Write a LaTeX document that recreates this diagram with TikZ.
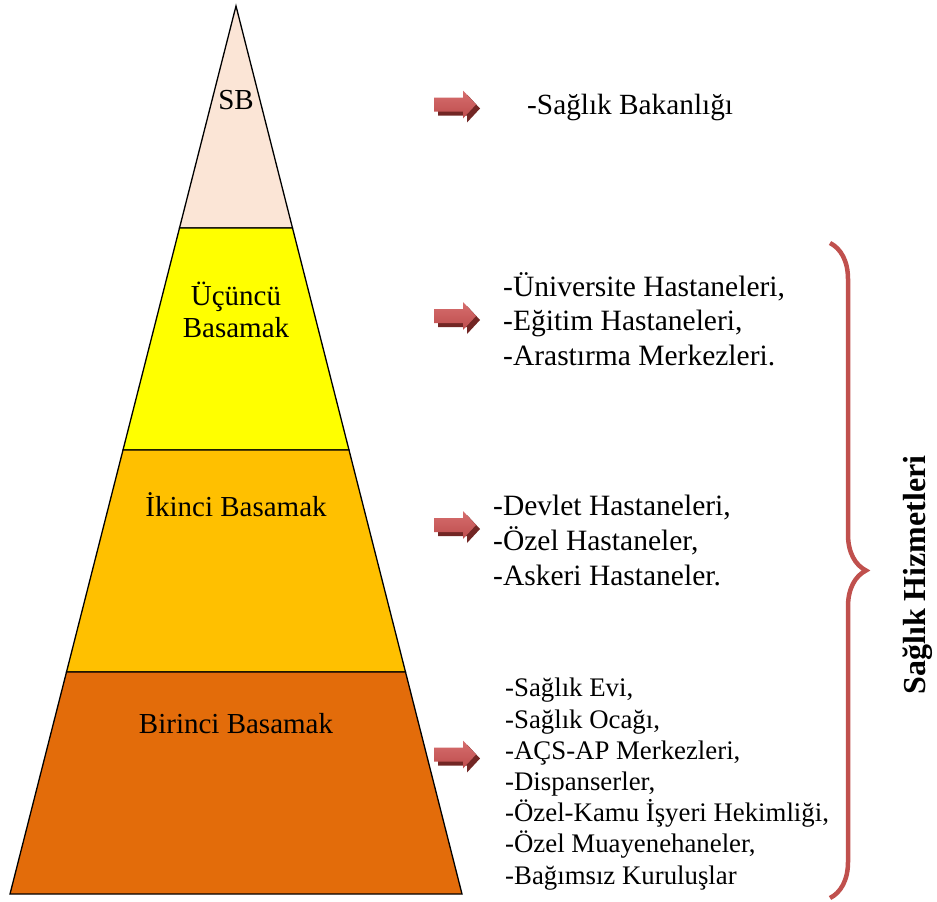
\documentclass[tikz,border=0pt]{standalone}
\usepackage{fontspec}
\setmainfont{Liberation Serif}
\usetikzlibrary{decorations.pathreplacing}
\definecolor{sbpeach}{HTML}{FBE5D6}
\definecolor{tierthree}{HTML}{FFFF00}
\definecolor{tiertwo}{HTML}{FFC000}
\definecolor{tierone}{HTML}{E36C0A}
\definecolor{arrowtop}{HTML}{D66E6E}
\definecolor{arrowbot}{HTML}{BE4D4D}
\definecolor{arrowdark}{HTML}{722624}
\definecolor{bracered}{HTML}{C0504D}
\begin{document}
\begin{tikzpicture}[x=1pt,y=-1pt,
  tier/.style={draw=black, line width=1.3pt, line join=miter},
  tierlabel/.style={font=\fontsize{29}{32}\selectfont, align=center, inner sep=0pt},
  listtext/.style 2 args={font=\fontsize{#1}{#2}\selectfont, align=left, anchor=west, inner sep=0pt},
  pointer/.pic={
    % extruded dark back face
    \fill[arrowdark] (4,-3) -- (33,-3) -- (33,-10) -- (46,4) -- (33,18) -- (33,11) -- (4,11) -- cycle;
    % front face
    \shade[top color=arrowtop, bottom color=arrowbot]
      (0,-7) -- (29,-7) -- (29,-14) -- (42,0) -- (29,14) -- (29,7) -- (0,7) -- cycle;
  }
]
\useasboundingbox (0,0) rectangle (937,902);

% pyramid tiers, top to bottom
\path[tier, fill=sbpeach]   (236,6) -- (292.5,228) -- (179.5,228) -- cycle;
\path[tier, fill=tierthree] (179.5,228) -- (292.5,228) -- (349,450) -- (123,450) -- cycle;
\path[tier, fill=tiertwo]   (123,450) -- (349,450) -- (405.5,672) -- (66.5,672) -- cycle;
\path[tier, fill=tierone]   (66.5,672) -- (405.5,672) -- (462,894) -- (10,894) -- cycle;

% tier labels
\node[tierlabel] (sb) at (236,100) {SB};
\node[tierlabel] (t3) at (236,310) {Üçüncü\\Basamak};
\node[tierlabel] (t2) at (236,505) {İkinci Basamak};
\node[tierlabel] (t1) at (236,724) {Birinci Basamak};

% pointers
\pic at (434,104.5) {pointer};
\pic at (434,316) {pointer};
\pic at (434,525) {pointer};
\pic at (434,754.5) {pointer};

% institution lists
\node[listtext={29.3}{35}] (l0) at (527,107) {-Sağlık Bakanlığı};
\node[listtext={29.5}{34.5}] (l3) at (503,319) {-Üniversite Hastaneleri,\\-Eğitim Hastaneleri,\\-Arastırma Merkezleri.};
\node[listtext={29.5}{35}] (l2) at (493,540) {-Devlet Hastaneleri,\\-Özel Hastaneler,\\-Askeri Hastaneler.};
\node[listtext={26.8}{31.2}] (l1) at (505,784) {-Sağlık Evi,\\-Sağlık Ocağı,\\-AÇS-AP Merkezleri,\\-Dispanserler,\\-Özel-Kamu İşyeri Hekimliği,\\-Özel Muayenehaneler,\\-Bağımsız Kuruluşlar};

% brace over the service tiers
\coordinate (btop) at (830,243);
\coordinate (bbot) at (830,898);
\draw[bracered, line width=4.5pt, decorate, decoration={brace, amplitude=36pt}] (btop) -- (bbot);
\node[rotate=90, font=\fontsize{32}{34}\selectfont\bfseries, inner sep=0pt] (svc) at (918,575) {Sağlık Hizmetleri};
\end{tikzpicture}
\end{document}
